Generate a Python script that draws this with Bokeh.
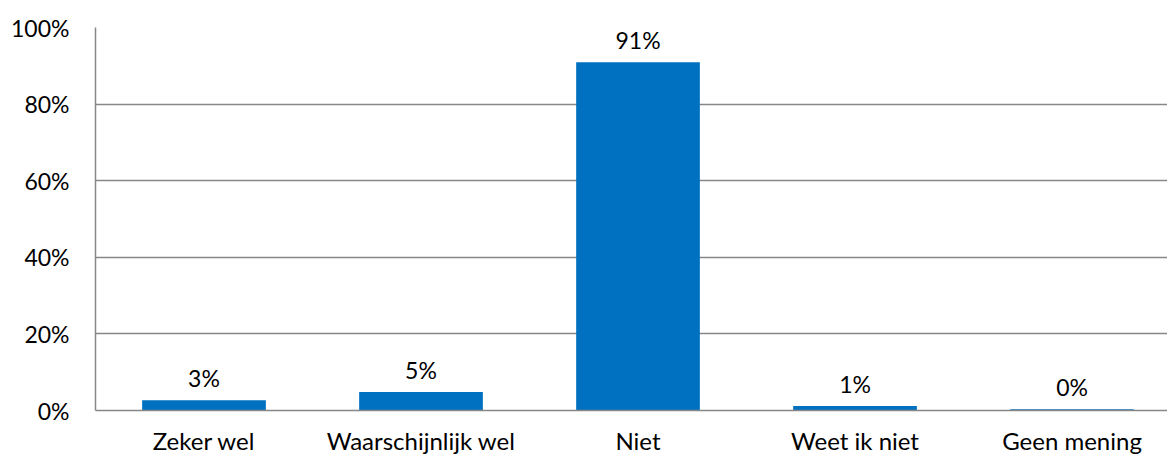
from bokeh.plotting import figure
from bokeh.models import ColumnDataSource, NumeralTickFormatter, FixedTicker, Range1d
from bokeh.core.properties import value
from bokeh.embed import file_html
from bokeh.resources import INLINE

categories = ["Zeker wel", "Waarschijnlijk wel", "Niet", "Weet ik niet", "Geen mening"]
values = [0.027, 0.048, 0.909, 0.012, 0.003]
labels = ["3%", "5%", "91%", "1%", "0%"]
y_ticks = [0, 0.2, 0.4, 0.6, 0.8, 1.0]

FONT = "Lato"
GRAY = "#878787"

idx = list(range(len(categories)))
src = ColumnDataSource(dict(x=idx, cat=categories, val=values, lab=labels))

# the reference's plot area runs past the right edge of the picture
p = figure(x_range=Range1d(-0.5, 4.44), y_range=Range1d(0, 1.0), width=1167, height=458,
           output_backend="svg", toolbar_location=None,
           min_border_left=95, min_border_right=0, min_border_top=27, min_border_bottom=48)
p.outline_line_color = None
p.vbar(x="x", top="val", width=0.57, source=src, color="#0070C0", line_color=None)
p.text(x="x", y="val", text="lab", source=src, text_align="center", text_baseline="bottom",
       y_offset=-8, text_font=value(FONT), text_font_size="23px", text_color="#000000")

p.xaxis.ticker = FixedTicker(ticks=idx)
p.xaxis.major_label_overrides = {i: c for i, c in zip(idx, categories)}
p.yaxis.ticker = FixedTicker(ticks=y_ticks)
p.yaxis.formatter = NumeralTickFormatter(format="0%")
for ax in (p.xaxis, p.yaxis):
    ax.major_label_text_font = FONT
    ax.major_label_text_color = "#000000"
    ax.major_tick_line_color = None
    ax.minor_tick_line_color = None
    ax.major_tick_out = 0
    ax.major_tick_in = 0
    ax.minor_tick_out = 0
    ax.minor_tick_in = 0
    ax.axis_line_color = GRAY
    ax.axis_line_width = 1.5
p.yaxis.major_label_text_font_size = "23px"
p.xaxis.major_label_text_font_size = "24px"
p.yaxis.major_label_standoff = 26
p.xaxis.major_label_standoff = 15
p.xgrid.grid_line_color = None
p.ygrid.grid_line_color = GRAY
p.ygrid.grid_line_width = 1.5
p.ygrid.ticker = FixedTicker(ticks=y_ticks)

open("out.html", "w").write(file_html(p, INLINE))
